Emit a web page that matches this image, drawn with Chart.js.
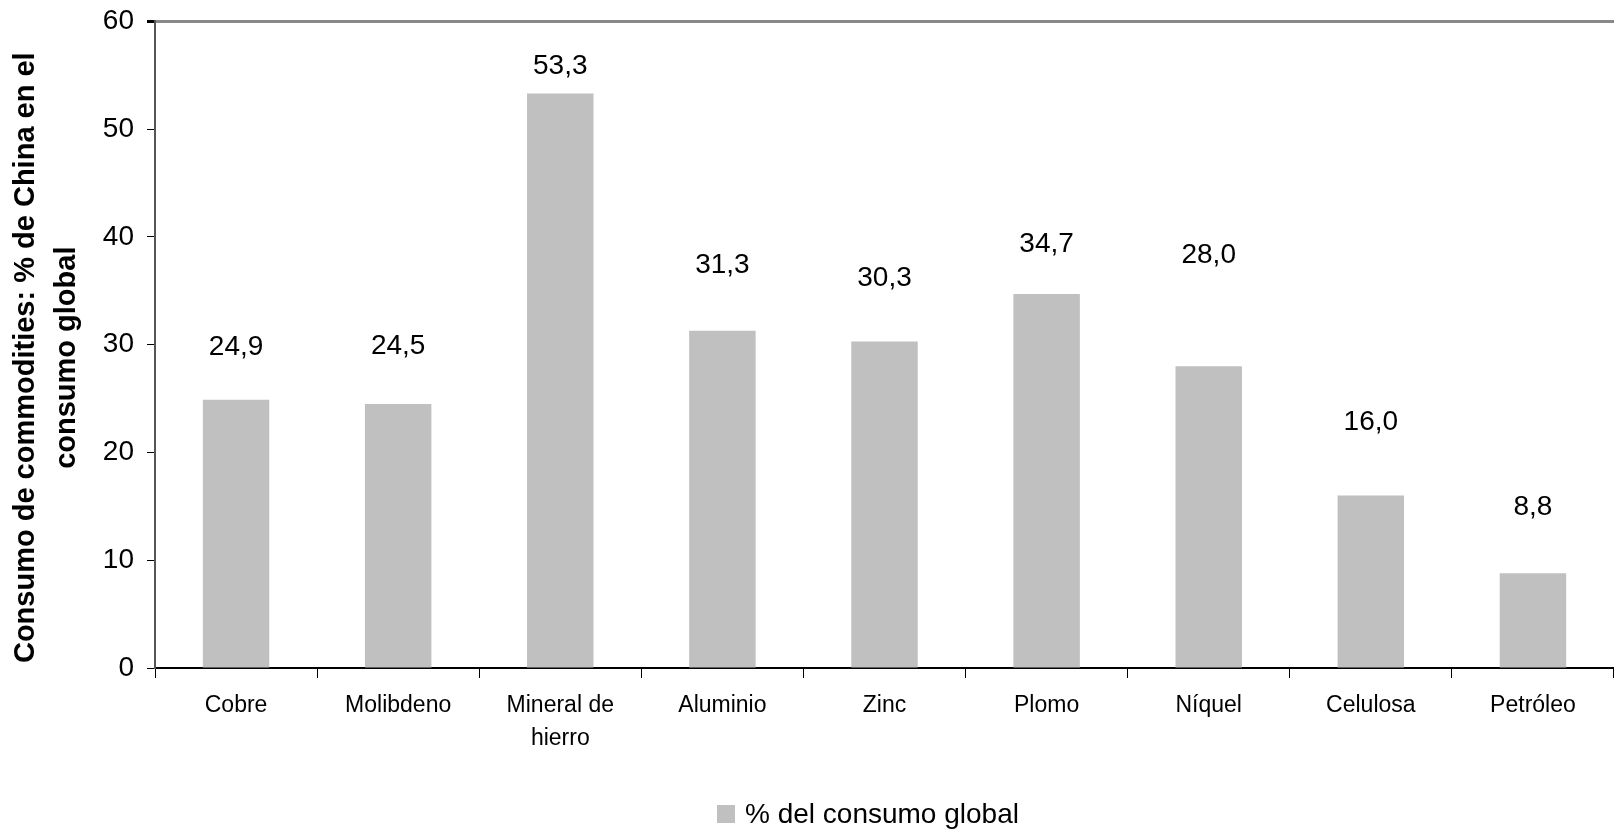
<!DOCTYPE html>
<html>
<head>
<meta charset="utf-8">
<script src="https://cdn.jsdelivr.net/npm/chart.js@4/dist/chart.umd.min.js"></script>
<style>
  body { margin: 0; background: #fff; overflow: hidden; }
  #wrap { position: relative; width: 1614px; height: 832px; }
  #legend { position: absolute; left: 717px; top: 798px; display: flex; align-items: center;
    font-family: "Liberation Sans", Arial, sans-serif; font-size: 28px; color: #000; }
  #legend .box { width: 18px; height: 18px; margin-right: 10px; }
</style>
</head>
<body>
<div id="wrap">
  <canvas id="chart" width="1614" height="832"></canvas>
  <div id="legend"></div>
</div>
<script>
const categories = ["Cobre", "Molibdeno", ["Mineral de", "hierro"], "Aluminio", "Zinc", "Plomo", "Níquel", "Celulosa", "Petróleo"];
const shareValues = [24.9, 24.5, 53.3, 31.3, 30.3, 34.7, 28.0, 16.0, 8.8];
const yTicks = [0, 10, 20, 30, 40, 50, 60];
const seriesName = "% del consumo global";
const axisTitle = ["Consumo de commodities: % de China en el", "consumo global"];

const FONT = "'Liberation Sans', Arial, sans-serif";
const BAR = "#c0c0c0";

// label lift above each bar top (px), as placed in the original
const labelLift = [52, 58, 27, 65, 63, 50, 111, 73, 66];

const valueLabels = {
  id: "valueLabels",
  afterDatasetsDraw(chart) {
    const { ctx } = chart;
    const meta = chart.getDatasetMeta(0);
    ctx.save();
    ctx.font = "28px " + FONT;
    ctx.fillStyle = "#000";
    ctx.textAlign = "center";
    ctx.textBaseline = "middle";
    meta.data.forEach((bar, i) => {
      const txt = shareValues[i].toFixed(1).replace(".", ",");
      ctx.fillText(txt, bar.x, bar.y - labelLift[i]);
    });
    ctx.restore();
  }
};

// y title drawn by hand: sits a bit below the plot centre in the original
const yTitle = {
  id: "yTitle",
  afterDraw(chart) {
    const { ctx, chartArea } = chart;
    const cy = (chartArea.top + chartArea.bottom) / 2 + 13;
    ctx.save();
    ctx.font = "bold 29px " + FONT;
    ctx.fillStyle = "#000";
    ctx.textAlign = "center";
    ctx.textBaseline = "middle";
    ctx.translate(26, cy);
    ctx.rotate(-Math.PI / 2);
    axisTitle.forEach((line, i) => ctx.fillText(line, 0, i * 41));
    ctx.restore();
  }
};

const chart = new Chart(document.getElementById("chart"), {
  type: "bar",
  data: {
    labels: categories,
    datasets: [{
      label: seriesName,
      data: shareValues,
      backgroundColor: BAR,
      borderWidth: 0,
      categoryPercentage: 1,
      barPercentage: 0.41
    }]
  },
  options: {
    responsive: false,
    animation: false,
    layout: { padding: 0 },
    plugins: {
      legend: { display: false },
      tooltip: { enabled: false }
    },
    scales: {
      x: {
        grid: {
          offset: true,
          color: "transparent",
          tickColor: "#000",
          tickLength: 10,
          lineWidth: 1
        },
        border: { color: "#000", width: 2 },
        ticks: {
          color: "#000",
          font: { family: FONT, size: 23, lineHeight: 1.4 },
          padding: 12,
          maxRotation: 0,
          autoSkip: false
        },
        afterFit(scale) { scale.height = 164; }
      },
      y: {
        min: 0,
        max: 60,
        afterBuildTicks(scale) { scale.ticks = yTicks.map(v => ({ value: v })); },
        grid: {
          color: ctx => ctx.tick && ctx.tick.value === 60 ? "#888" : "transparent",
          lineWidth: ctx => ctx.tick && ctx.tick.value === 60 ? 3 : 1,
          tickColor: "#000",
          tickLength: 8
        },
        border: { color: "#555", width: 2 },
        ticks: {
          color: "#000",
          // small lineHeight keeps the top margin tight (plot starts ~21px down)
          font: { family: FONT, size: 28, lineHeight: 0.6 },
          padding: 13
        },
        afterFit(scale) { scale.width = 155; }
      }
    }
  },
  plugins: [valueLabels, yTitle]
});

// legend built from the dataset
const legend = document.getElementById("legend");
chart.data.datasets.forEach(ds => {
  const box = document.createElement("span");
  box.className = "box";
  box.style.background = ds.backgroundColor;
  const txt = document.createElement("span");
  txt.textContent = ds.label;
  legend.appendChild(box);
  legend.appendChild(txt);
});
</script>
</body>
</html>
